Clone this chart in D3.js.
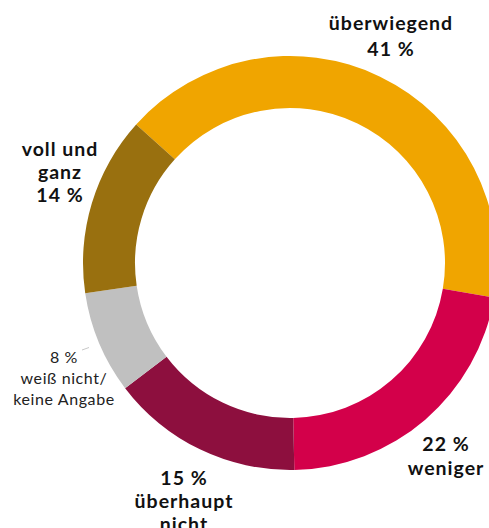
<!DOCTYPE html>
<html>
<head>
<meta charset="utf-8">
<script src="https://cdn.jsdelivr.net/npm/d3@7"></script>
<style>
	body { margin: 0; background: #fff; }
	svg { display: block; }
	.lbl { font-family: Lato, "Open Sans", sans-serif; font-weight: bold; font-size: 19.5px; letter-spacing: 1px; fill: #111; }
	.lbl_light { font-family: Lato, "Open Sans", sans-serif; font-weight: normal; font-size: 16px; letter-spacing: 0.6px; fill: #222; }
</style>
</head>
<body>
<svg id="chart" width="489" height="528"></svg>
<script>
var categories = [ "überwiegend", "weniger", "überhaupt nicht", "weiß nicht/keine Angabe", "voll und ganz" ];
var values = [ 41, 22, 15, 8, 14 ];
var colors = [ "#F0A500", "#D3004A", "#8D0F3E", "#C0C0C0", "#99700F" ];
// label lines for each slice, first line on top
var label_lines = [
	[ "überwiegend", "41 %" ],
	[ "22 %", "weniger" ],
	[ "15 %", "überhaupt", "nicht" ],
	[ "8 %", "weiß nicht/", "keine Angabe" ],
	[ "voll und", "ganz", "14 %" ]
];

var CENTER = { "x": 290, "y": 263 };
var OUTER_R = 207;
var INNER_R = 155;
var START = -48 * Math.PI / 180;

// where the label blocks sit (first baseline) and their line step
var LABEL_POS = [
	{ "x": 391, "y": 30, "step": 26, "light": false },
	{ "x": 446, "y": 451, "step": 24, "light": false },
	{ "x": 184, "y": 485, "step": 23, "light": false },
	{ "x": 64, "y": 363, "step": 21, "light": true },
	{ "x": 60, "y": 156, "step": 23, "light": false }
];

var data = categories.map( function(c, i) {
	return { "name": c, "value": values[i], "color": colors[i], "lines": label_lines[i], "pos": LABEL_POS[i] };
});

var svg = d3.select( "#chart" );

var pie = d3.pie()
	.value( function(d) { return d.value; } )
	.sort( null )
	.startAngle( START )
	.endAngle( START + 2 * Math.PI );

var arc = d3.arc()
	.innerRadius( INNER_R )
	.outerRadius( OUTER_R );

var g = svg.append( "g" )
	.attr( "transform", "translate(" + CENTER.x + "," + CENTER.y + ")" );

g.selectAll( "path" )
	.data( pie(data) )
	.enter().append( "path" )
		.attr( "d", arc )
		.attr( "fill", function(d) { return d.data.color; } );

// small leader for the grey slice
svg.append( "line" )
	.attr( "x1", 82 ).attr( "y1", 350 )
	.attr( "x2", 89 ).attr( "y2", 347.5 )
	.attr( "stroke", "#c8c8c8" )
	.attr( "stroke-width", 1 );

var labels = svg.selectAll( "text.lbl_group" )
	.data( data )
	.enter().append( "text" )
		.attr( "class", function(d) { return d.pos.light ? "lbl_light" : "lbl"; } )
		.attr( "text-anchor", "middle" );

labels.each( function(d) {
	var t = d3.select( this );
	d.lines.forEach( function(line, i) {
		t.append( "tspan" )
			.attr( "x", d.pos.x )
			.attr( "y", d.pos.y + i * d.pos.step )
			.text( line );
	});
});
</script>
</body>
</html>
